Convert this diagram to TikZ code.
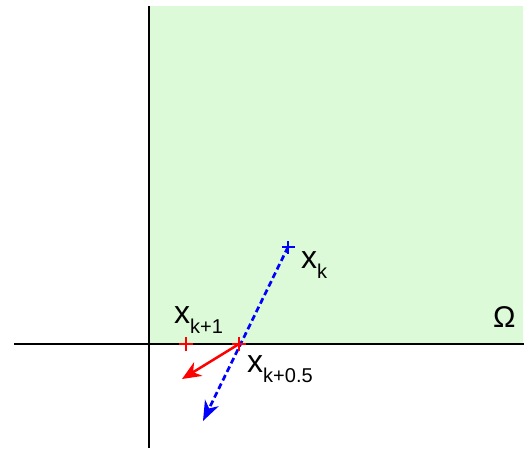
\documentclass[tikz,border=0pt]{standalone}
\usepackage{fontspec}
\setmainfont{Liberation Sans}
\usetikzlibrary{arrows.meta,positioning,calc}
\definecolor{regiongreen}{RGB}{221,250,216}
\definecolor{stepblue}{RGB}{0,0,255}
\definecolor{stepred}{RGB}{255,0,0}
\newcommand{\lbl}[2]{\fontsize{32}{32}\selectfont #1\raisebox{-10pt}{\fontsize{20}{20}\selectfont #2}}

\begin{document}
\begin{tikzpicture}[x=1pt, y=1pt]
    \tikzset{axis/.style={line width=2.3pt, black},
             lbl/.style={inner sep=0pt, anchor=base west},
             plus/.style={line width=2.5pt}}
    \useasboundingbox (0,0) rectangle (524,448);
    \fill[regiongreen] (149,442) rectangle (523,104);
    % axes
    \coordinate (vtop) at (149,442);
    \coordinate (vbot) at (149,0);
    \coordinate (hl) at (14,104);
    \coordinate (hr) at (524,104);
    \draw[axis] (vbot) -- (vtop);
    \draw[axis] (hl) -- (hr);
    % iterates
    \coordinate (xk) at (288,201);
    \coordinate (xkh) at (239,104);
    \coordinate (xk1) at (186,104);
    \coordinate (bend) at (203,27);
    \coordinate (rend) at (182,69);
    \draw[stepblue, line width=2.7pt, dash pattern=on 6pt off 3.5pt,
          -{Stealth[length=20pt,width=15pt,inset=6pt]}] (xk) -- (bend);
    \draw[stepred, line width=2.5pt,
          -{Stealth[length=19pt,width=16pt,inset=6pt]}] (xkh) -- (rend);
    \draw[plus, stepblue] ($(xk)+(-6.5,0)$) -- ++(13,0) ($(xk)+(0,-6.5)$) -- ++(0,13);
    \draw[plus, stepred] ($(xkh)+(-7,0)$) -- ++(14,0) ($(xkh)+(0,-7)$) -- ++(0,14);
    \draw[plus, stepred] ($(xk1)+(-7,0)$) -- ++(14,0) ($(xk1)+(0,-7)$) -- ++(0,14);
    % labels
    \node[lbl] (lk) at (301,180) {\lbl{x}{k}};
    \node[lbl] (lk1) at (174,125) {\lbl{x}{k+1}};
    \node[lbl] (lkh) at (247,76) {\lbl{x}{k+0.5}};
    \node[lbl] (omega) at (493,121) {\fontsize{30}{30}\selectfont Ω};
\end{tikzpicture}
\end{document}
